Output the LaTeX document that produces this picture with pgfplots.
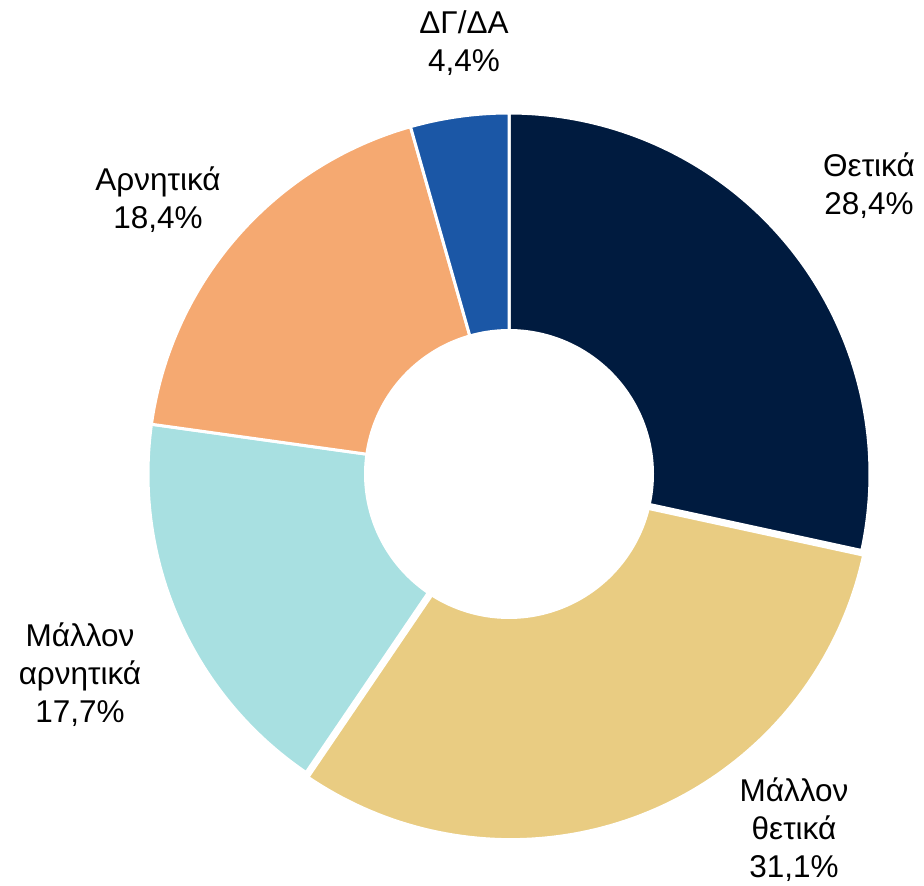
\documentclass[border=0pt]{standalone}
\usepackage{pgfplots}
\pgfplotsset{compat=1.18}
\usepackage{fontspec}
\setmainfont{Liberation Sans}
\definecolor{cA}{HTML}{001B3F}
\definecolor{cB}{HTML}{E9CC82}
\definecolor{cC}{HTML}{A8E0E1}
\definecolor{cD}{HTML}{F5A971}
\definecolor{cE}{HTML}{1B57A6}
% shares in percent
\def\vA{28.4}% Θετικά
\def\vB{31.1}% Μάλλον θετικά
\def\vC{17.7}% Μάλλον αρνητικά
\def\vD{18.4}% Αρνητικά
\def\vE{4.4}%  ΔΓ/ΔΑ
\pgfmathsetmacro\aA{90}
\pgfmathsetmacro\aB{\aA-3.6*\vA}
\pgfmathsetmacro\aC{\aB-3.6*\vB}
\pgfmathsetmacro\aD{\aC-3.6*\vC}
\pgfmathsetmacro\aE{\aD-3.6*\vD}
\pgfmathsetmacro\aF{\aE-3.6*\vE}
\pgfmathsetmacro\mB{(\aB+\aC)/2}
\pgfmathsetmacro\exX{5*cos(\mB)}
\pgfmathsetmacro\exY{5*sin(\mB)}
\def\R{361}
\def\r{145}
\begin{document}
\begin{tikzpicture}
\begin{axis}[scale only axis, width=924pt, height=884pt,
  xmin=-509, xmax=415, ymin=-410, ymax=474,
  hide axis, clip=false]
\path (axis cs:-509,-410) rectangle (axis cs:415,474);
\addplot[fill=cA, draw=white, line width=3pt, line join=round, domain=\aB:\aA, samples=90, variable=\t]
  ({\R*cos(\t)},{\R*sin(\t)}) -- (axis cs:0,0) -- cycle;
\addplot[fill=cB, draw=white, line width=3pt, line join=round, domain=\aC:\aB, samples=90, variable=\t]
  ({\R*cos(\t)+\exX},{\R*sin(\t)+\exY}) -- (axis cs:\exX,\exY) -- cycle;
\addplot[fill=cC, draw=white, line width=3pt, line join=round, domain=\aD:\aC, samples=90, variable=\t]
  ({\R*cos(\t)},{\R*sin(\t)}) -- (axis cs:0,0) -- cycle;
\addplot[fill=cD, draw=white, line width=3pt, line join=round, domain=\aE:\aD, samples=90, variable=\t]
  ({\R*cos(\t)},{\R*sin(\t)}) -- (axis cs:0,0) -- cycle;
\addplot[fill=cE, draw=white, line width=3pt, line join=round, domain=\aF:\aE, samples=40, variable=\t]
  ({\R*cos(\t)},{\R*sin(\t)}) -- (axis cs:0,0) -- cycle;
\addplot[fill=white, draw=none, domain=0:360, samples=180, variable=\t]
  ({\r*cos(\t)},{\r*sin(\t)}) -- cycle;
\begin{scope}[every node/.style={align=center, font=\fontsize{31.5}{38}\selectfont}]
\node at (axis cs:360,288) {Θετικά\\28,4\%};
\node at (axis cs:285,-356) {Μάλλον\\θετικά\\31,1\%};
\node at (axis cs:-429,-201) {Μάλλον\\αρνητικά\\17,7\%};
\node at (axis cs:-351,274) {Αρνητικά\\18,4\%};
\node at (axis cs:-45,431) {ΔΓ/ΔΑ\\4,4\%};
\end{scope}
\end{axis}
\end{tikzpicture}
\end{document}
